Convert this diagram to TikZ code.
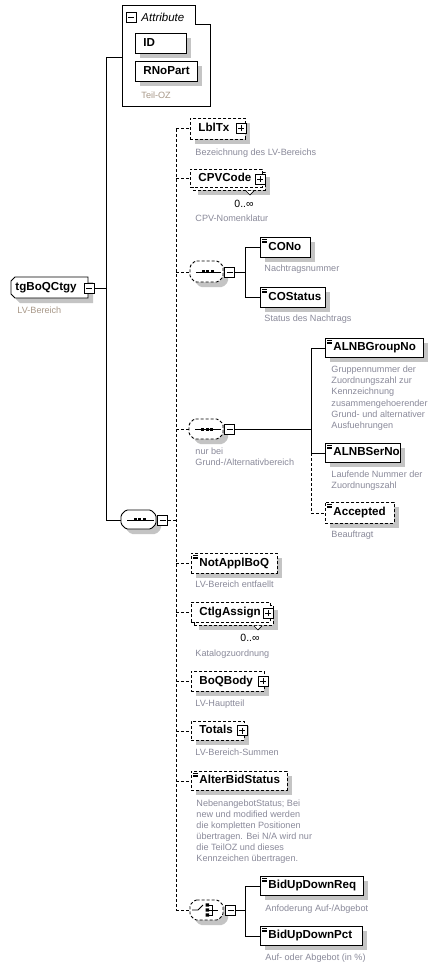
\documentclass[tikz,border=0pt]{standalone}
\usepackage{fontspec}
\setmainfont{Liberation Sans}
\definecolor{descgray}{HTML}{8A8A9A}
\definecolor{tancol}{HTML}{A89888}
\definecolor{shadowgray}{HTML}{C4C4C4}
\tikzset{
 dsh/.style={dash pattern=on 3pt off 2pt},
 shdfill/.style={fill=shadowgray, draw=none},
 elembase/.style={draw, fill=white, font=\bfseries\fontsize{11.6}{13}\selectfont, inner xsep=8pt, inner ysep=0pt, align=left, text height=8.5pt, text depth=2.5pt},
 desc/.style={font=\fontsize{9.1}{11.2}\selectfont, text=descgray, align=left, inner sep=0pt, anchor=north west},
 mult/.style={font=\fontsize{10.5}{12}\selectfont, inner sep=0pt},
 pmbox/.style={draw, solid, fill=white, minimum size=10pt, inner sep=0pt, line width=0.8pt},
 minusbox/.style={pmbox, path picture={\draw[line width=0.8pt] ([xshift=2pt]path picture bounding box.west) -- ([xshift=-2pt]path picture bounding box.east);}},
 plusbox/.style={pmbox, path picture={\draw[line width=0.8pt] ([xshift=2pt]path picture bounding box.west) -- ([xshift=-2pt]path picture bounding box.east) ([yshift=2pt]path picture bounding box.south) -- ([yshift=-2pt]path picture bounding box.north);}},
 symline/.style={solid, line width=0.9pt},
}
\newcommand\El[7][]{%
  \pgfmathsetmacro\elw{#5-#3-16}\pgfmathsetmacro\elh{#6-#4}%
  \fill[shdfill] (#3+5,#4+5) rectangle (#5+5,#6+5);%
  \node[elembase,#1,text width=\elw pt,minimum height=\elh pt,anchor=north west] (#2) at (#3,#4) {#7};}
\newcommand\ElMulti[6]{%
  \pgfmathsetmacro\elw{#4-#2-16}\pgfmathsetmacro\elh{#5-#3}%
  \fill[shdfill] (#2+8,#3+8) rectangle (#4+8,#5+8);%
  \node[elembase,dsh,text width=\elw pt,minimum height=\elh pt,anchor=north west] (#1b) at (#2+3,#3+3) {};%
  \node[elembase,dsh,text width=\elw pt,minimum height=\elh pt,anchor=north west] (#1) at (#2,#3) {#6};%
  \draw[fill=white,solid,line width=0.7pt] ([xshift=-20pt]#1b.south east) -- ++(4,4) -- ++(4,-4);}
\newcommand\SIcon[1]{\draw[line width=0.7pt,solid] ([shift={(2,2.2)}]#1.north west) -- ++(5,0) ([shift={(2,4)}]#1.north west) -- ++(5,0) ([shift={(2,5.8)}]#1.north west) -- ++(5,0);}
\newcommand\OctPath[4]{(#1+5,#2) -- (#3-5,#2) -- (#3,#2+5) -- (#3,#4-5) -- (#3-5,#4) -- (#1+5,#4) -- (#1,#4-5) -- (#1,#2+5) -- cycle}
\newcommand\Grp[6][]{%
 \pgfmathsetmacro\gw{#5-#3}\pgfmathsetmacro\gh{#6-#4}%
 \fill[shdfill,rounded corners=1.5pt] \OctPath{#3+5}{#4+5}{#5+5}{#6+5};%
 \draw[fill=white,rounded corners=1.5pt,#1] \OctPath{#3}{#4}{#5}{#6};%
 \node[inner sep=0pt,minimum width=\gw pt,minimum height=\gh pt,anchor=north west] (#2) at (#3,#4) {};}
\newcommand\SeqSym[1]{\draw[symline] ([xshift=6pt]#1.west) -- ([xshift=-3pt]#1.east);
 \foreach \dx in {-3.5,1,5.5} \fill ([xshift=\dx pt]#1.center) ++(-1.5,-1.5) rectangle ++(3,3);}
\begin{document}
\begin{tikzpicture}[x=1pt,y=-1pt,line width=0.9pt]
\useasboundingbox[fill=white] (0,0) rectangle (439,968);
% ---- attributes
\node[inner sep=0pt,minimum width=88pt,minimum height=101pt,anchor=north west] (attr) at (122,5) {};
\draw (attr.north west) -- ([xshift=73pt]attr.north west) -- ([shift={(73,19)}]attr.north west) -- ([yshift=-19pt]attr.north east) -- (attr.south east) -- (attr.south west) -- cycle;
\node[minusbox,anchor=north west] (attrm) at (126,12) {};
\node[font=\itshape\fontsize{11.5}{13}\selectfont,anchor=west,inner sep=0pt] (attrlbl) at (141,17) {Attribute};
\El{id}{135}{33}{186}{53}{ID}
\El{rnopart}{135}{61}{197}{81}{RNoPart}
\node[desc,text=tancol] (teiloz) at (141,91.5) {Teil-OZ};
% ---- root
\fill[shdfill] (20,282) -- (93,282) -- (93,303) -- (20,303) -- (16,299) -- (16,286) -- cycle;
\draw[fill=white] (15,277) -- (88,277) -- (88,298) -- (15,298) -- (11,294) -- (11,281) -- cycle;
\node[inner xsep=4pt,inner ysep=0pt,text width=69pt,align=left,minimum height=21pt,anchor=north west,font=\bfseries\fontsize{11.6}{13}\selectfont,text height=8.5pt,text depth=2.5pt] (root) at (11,277) {tgBoQCtgy};
\node[minusbox] (rootm) at (root.east) {};
\node[desc,text=tancol] (rootd) at (17,306.5) {LV-Bereich};
% ---- main sequence
\coordinate (spA) at (106,57);
\Grp{seq0}{121}{510}{156}{529}
\SeqSym{seq0}
\node[minusbox,anchor=west] (seq0m) at ([xshift=0.5pt]seq0.east) {};
\draw (rootm.east) -- (rootm.east -| spA);
\draw (spA -| attr.west) -- (spA) -- (spA |- seq0.west) -- (seq0.west);
\coordinate (dsx) at (176,0);
% ---- LblTx
\El[dsh]{lbltx}{190}{118}{245}{139}{LblTx}
\node[plusbox] (lbltxp) at (241,128.5) {};
\node[desc] (lbltxd) at (195,148.5) {Bezeichnung des LV-Bereichs};
% ---- CPVCode
\ElMulti{cpv}{190}{169}{262}{187}{CPVCode}
\node[plusbox] (cpvp) at (260,179) {};
\node[mult] (cpvm) at (244,204) {0..∞};
\node[desc] (cpvd) at (195,214.5) {CPV-Nomenklatur};
% ---- sequence 1
\Grp[dsh]{seq1}{190}{261}{223}{282}
\SeqSym{seq1}
\node[minusbox,anchor=west] (seq1m) at ([xshift=0.5pt]seq1.east) {};
\El{cono}{260}{237}{310}{257}{CONo}\SIcon{cono}
\El{costatus}{260}{287}{325}{307}{COStatus}\SIcon{costatus}
\node[desc] (conod) at (264,264.5) {Nachtragsnummer};
\node[desc] (costatusd) at (264,314.5) {Status des Nachtrags};
% ---- sequence 2
\Grp[dsh]{seq2}{189}{419}{223}{439}
\SeqSym{seq2}
\node[minusbox,anchor=west] (seq2m) at ([xshift=0.5pt]seq2.east) {};
\node[desc] (seq2d) at (195,447.5) {nur bei\\Grund-/Alternativbereich};
\El{alnbg}{325}{338}{423}{357}{ALNBGroupNo}\SIcon{alnbg}
\node[desc] (alnbgd) at (331,365.5) {Gruppennummer der\\Zuordnungszahl zur\\Kennzeichnung\\zusammengehoerender\\Grund- und alternativer\\Ausfuehrungen};
\El{alnbs}{325}{443}{400}{462}{ALNBSerNo}\SIcon{alnbs}
\node[desc] (alnbsd) at (331,470.5) {Laufende Nummer der\\Zuordnungszahl};
\El[dsh]{acc}{325}{502}{394}{523}{Accepted}\SIcon{acc}
\node[desc] (accd) at (331,530.5) {Beauftragt};
% ---- NotApplBoQ
\El[dsh]{notappl}{191}{553}{277}{573}{NotApplBoQ}\SIcon{notappl}
\node[desc] (notappld) at (195,580.5) {LV-Bereich entfaellt};
% ---- CtlgAssign
\ElMulti{ctlg}{191}{602}{270}{622}{CtlgAssign}
\node[plusbox] (ctlgp) at (268,613) {};
\node[mult] (ctlgm) at (250,638) {0..∞};
\node[desc] (ctlgd) at (195,649.5) {Katalogzuordnung};
% ---- BoQBody
\El[dsh]{boqbody}{191}{671}{264}{691}{BoQBody}
\node[plusbox] (boqbodyp) at (263,681) {};
\node[desc] (boqbodyd) at (195,699.5) {LV-Hauptteil};
% ---- Totals
\El[dsh]{totals}{191}{721}{244}{740}{Totals}
\node[plusbox] (totalsp) at (242,730.5) {};
\node[desc] (totalsd) at (195,748.5) {LV-Bereich-Summen};
% ---- AlterBidStatus
\El[dsh]{alter}{191}{771}{287}{790}{AlterBidStatus}\SIcon{alter}
\node[desc,font=\fontsize{9.1}{11}\selectfont] (alterd) at (196,799.5) {NebenangebotStatus; Bei\\new und modified werden\\die kompletten Positionen\\übertragen. Bei N/A wird nur\\die TeilOZ und dieses\\Kennzeichen übertragen.};
% ---- choice
\Grp[dsh]{ch}{190}{900}{223}{920}
\draw[symline] (192,910) -- (198,910) -- (203,905);
\fill (205.5,903.3) rectangle (209,906.7) (205.5,908.3) rectangle (209,911.7) (205.5,913.3) rectangle (209,916.7);
\draw[symline] (209,905) -- (212,905) -- (212,915) -- (209,915) (209,910) -- (218,910);
\node[minusbox,anchor=west] (chm) at ([xshift=1.5pt]ch.east) {};
\El{bidreq}{260}{876}{363}{895}{BidUpDownReq}\SIcon{bidreq}
\node[desc] (bidreqd) at (265,904.5) {Anfoderung Auf-/Abgebot};
\El{bidpct}{260}{926}{362}{945}{BidUpDownPct}\SIcon{bidpct}
\node[desc] (bidpctd) at (265,953.5) {Auf- oder Abgebot (in \%)};
% ---- connectors
\draw[dsh] (lbltx.west -| dsx) -- (ch.west -| dsx);
\foreach \n in {lbltx,cpv,seq1,seq2,notappl,ctlg,boqbody,totals,alter,ch}
  \draw[dsh] (\n.west -| dsx) -- (\n.west);
\draw[dsh] (seq0m.east) -- (seq0m.east -| dsx);
\coordinate (v1) at (245,0);
\draw (seq1m.east) -- (seq1m.east -| v1);
\draw (cono.west) -| (v1 |- costatus.west) -- (costatus.west);
\coordinate (v2) at (311,0);
\draw (seq2m.east) -- (seq2m.east -| v2);
\draw (alnbg.west) -| (v2 |- alnbs.west) -- (alnbs.west);
\draw[dsh] (v2 |- alnbs.west) -- (v2 |- acc.west) -- (acc.west);
\coordinate (v3) at (245,0);
\draw (chm.east) -- (chm.east -| v3);
\draw (bidreq.west) -| (v3 |- bidpct.west) -- (bidpct.west);
\end{tikzpicture}
\end{document}
